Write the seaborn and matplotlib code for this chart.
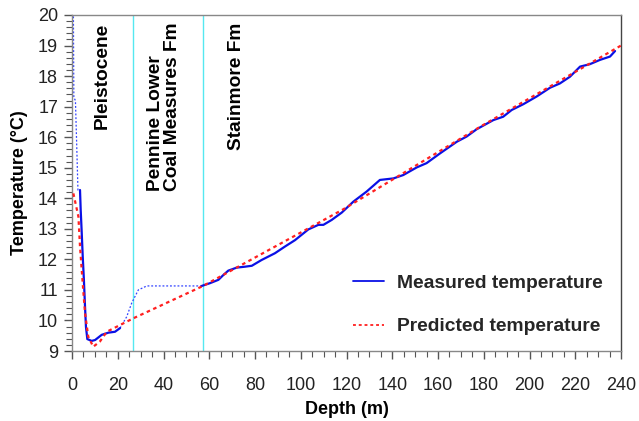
import numpy as np
import pandas as pd
import seaborn as sns
import matplotlib
matplotlib.use("Agg")
import matplotlib.pyplot as plt
from matplotlib.ticker import MultipleLocator
from matplotlib.lines import Line2D

sns.set_theme(style="white")
plt.rcParams['font.family'] = ['Liberation Sans', 'DejaVu Sans']

# Measured temperature (solid parts)
meas1_depth = [3.5, 3.8, 4.2, 4.7, 5.2, 5.7, 6.1, 6.7, 8.6, 10.1, 13.0, 15.9, 18.8, 21.0]
meas1_temp = [14.27, 13.62, 12.96, 12.08, 11.33, 10.44, 9.79, 9.39, 9.33, 9.36, 9.53, 9.60, 9.63, 9.75]

meas2_depth = [56.7, 60.3, 64.0, 66.2, 68.3, 72.0, 75.6, 78.6, 82.9, 88.7, 93.1, 97.5, 103.3,
               107.7, 109.9, 113.5, 117.9, 123.0, 128.8, 134.6, 140.5, 144.8, 150.7, 155.0,
               160.9, 168.2, 172.5, 176.9, 184.2, 188.5, 192.2, 197.3, 203.1, 209.0, 213.3,
               217.7, 222.1, 226.4, 230.8, 235.2, 237.4]
meas2_temp = [11.13, 11.22, 11.33, 11.49, 11.63, 11.73, 11.76, 11.79, 11.98, 12.20, 12.42, 12.63, 12.98,
              13.13, 13.13, 13.29, 13.53, 13.89, 14.22, 14.60, 14.65, 14.76, 15.01, 15.15,
              15.47, 15.85, 16.02, 16.26, 16.56, 16.67, 16.89, 17.08, 17.33, 17.62, 17.76,
              17.98, 18.31, 18.39, 18.53, 18.64, 18.82]

# Measured temperature gaps (thin dotted)
gap_top_depth = [0.6, 0.8, 1.5, 2.0, 2.6, 3.5]
gap_top_temp = [20.2, 17.3, 17.2, 15.9, 14.27, 14.27]
gap_mid_depth = [21.0, 23.9, 26.1, 29.0, 32.7, 45.0, 56.7]
gap_mid_temp = [9.75, 10.12, 10.57, 11.00, 11.13, 11.13, 11.13]

# Predicted temperature
pred_depth = [0.6, 2.8, 3.5, 4.9, 5.7, 7.1, 9.3, 12.2, 15.2, 21.0, 26.8, 57.3, 118.6, 178.4, 240.0]
pred_temp = [14.16, 13.40, 12.42, 11.00, 10.24, 9.47, 9.14, 9.31, 9.63, 9.85, 10.07, 11.13, 13.64, 16.34, 19.00]

boundaries = [26.8, 57.1]
formations = ["Pleistocene", "Pennine Lower\nCoal Measures Fm", "Stainmore Fm"]
formation_x = [13.1, 40.3, 71.9]

fig = plt.figure(figsize=(6.39, 4.21), dpi=100)
ax = fig.add_axes([72/639, 1 - 351/421, (621-72)/639, (351-15)/421])

for b in boundaries:
    ax.axvline(b, color="#55e8f0", lw=1.0, zorder=1)

sns.lineplot(x=gap_top_depth, y=gap_top_temp, ax=ax, color="#3344ff", lw=0.9,
             linestyle=(0, (1.5, 1.5)), sort=False, estimator=None)
sns.lineplot(x=gap_mid_depth, y=gap_mid_temp, ax=ax, color="#3344ff", lw=0.9,
             linestyle=(0, (1.5, 1.5)), sort=False, estimator=None)
sns.lineplot(x=pred_depth, y=pred_temp, ax=ax, color="#ff2020", lw=1.6,
             linestyle=(0, (1.6, 1.6)), sort=False, estimator=None, zorder=4)
sns.lineplot(x=meas1_depth, y=meas1_temp, ax=ax, color="#0a10e6", lw=1.6,
             sort=False, estimator=None, zorder=3)
sns.lineplot(x=meas2_depth, y=meas2_temp, ax=ax, color="#0a10e6", lw=1.6,
             sort=False, estimator=None, zorder=3)

ax.set_xlim(0, 240)
ax.set_ylim(9, 20)
ax.xaxis.set_major_locator(MultipleLocator(20))
ax.xaxis.set_minor_locator(MultipleLocator(5))
ax.yaxis.set_major_locator(MultipleLocator(1))
ax.yaxis.set_minor_locator(MultipleLocator(0.2))
ax.tick_params(axis='both', which='major', direction='out', length=6, width=1,
               color='#555555', labelsize=13, labelcolor='#222222', pad=4,
               bottom=True, left=True)
ax.tick_params(axis='both', which='minor', direction='out', length=4, width=0.8,
               color='#555555', bottom=True, left=True)
ax.tick_params(axis='x', which='major', pad=13)

for s in ['top', 'left', 'bottom']:
    ax.spines[s].set_color('#888888')
    ax.spines[s].set_linewidth(1.0)
ax.spines['right'].set_color('#444444')
ax.spines['right'].set_linewidth(1.0)

ax.set_xlabel("Depth (m)", fontsize=13, fontweight='bold', color='black', labelpad=5)
ax.set_ylabel("Temperature (°C)", fontsize=13, fontweight='bold', color='black', labelpad=7)

for name, xp in zip(formations, formation_x):
    ax.text(xp, 19.76, name, rotation=90, ha='center', va='top', fontsize=13.8,
            fontweight='bold', color='black', multialignment='left', linespacing=1.0)

handles = [Line2D([], [], color="#0a10e6", lw=1.3),
           Line2D([], [], color="#ff2020", lw=1.3, linestyle=(0, (1.6, 1.6)))]
leg = ax.legend(handles, ["Measured temperature", "Predicted temperature"],
                loc='center left', bbox_to_anchor=(0.512, 0.138), frameon=False,
                borderaxespad=0, borderpad=0, handlelength=1.6, handletextpad=0.68,
                labelspacing=1.36, prop={'weight': 'bold', 'size': 13.9})

fig.savefig("out.png", dpi=100)
